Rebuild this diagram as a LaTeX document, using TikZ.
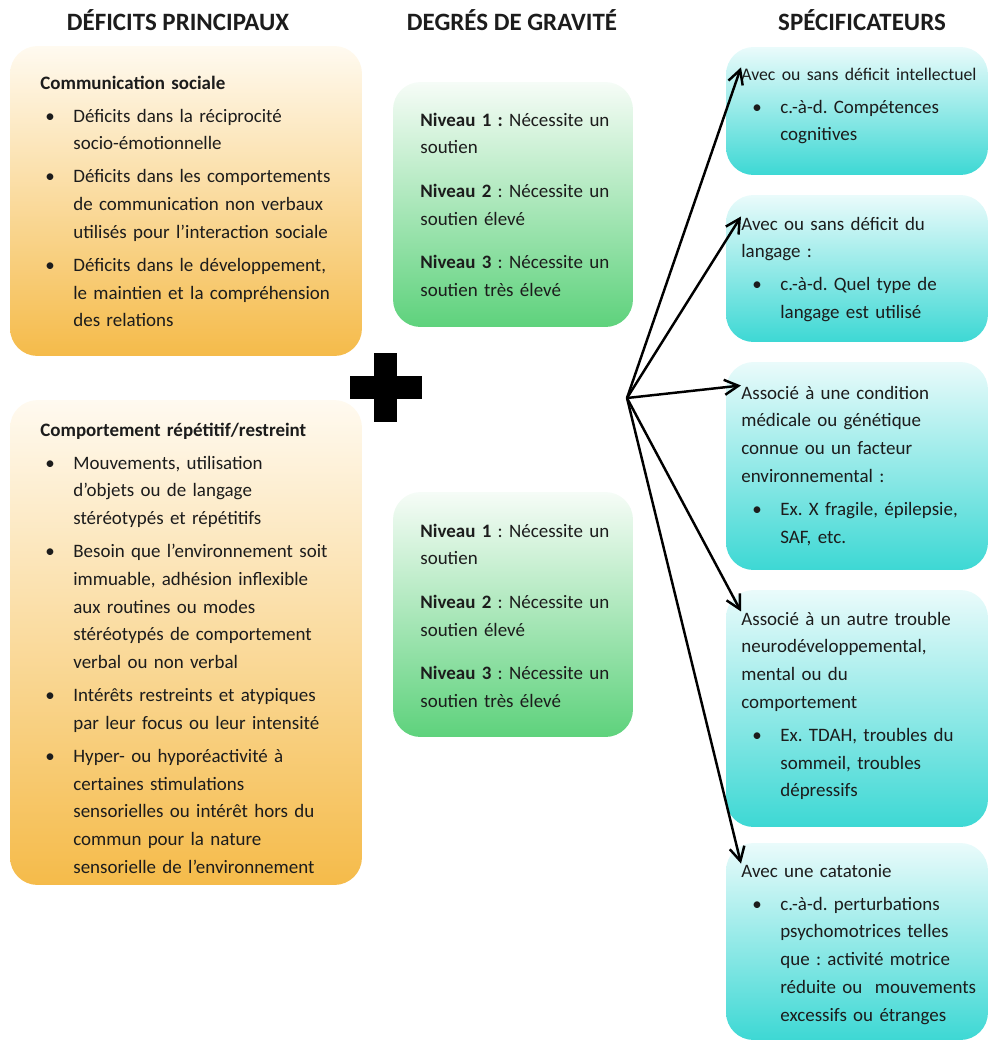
\documentclass[tikz,border=0pt]{standalone}
\usepackage{fontspec}
\setmainfont{Carlito}
\usetikzlibrary{positioning,arrows.meta}

\definecolor{orangeclair}{HTML}{FFFAF0}
\definecolor{orangefonce}{HTML}{F5BB4A}
\definecolor{vertclair}{HTML}{F6FCF7}
\definecolor{vertfonce}{HTML}{5ED27C}
\definecolor{cyanclair}{HTML}{EAFBFB}
\definecolor{cyanfonce}{HTML}{3DD8D4}
\definecolor{encre}{HTML}{1C1C1C}

\newlength\pucegauche
\newlength\pucetexte
\newcommand{\puce}[1]{\par\hangindent=\pucetexte\hangafter=1%
  \noindent\makebox[\pucetexte][l]{\hspace{\pucegauche}\textbullet}{\let\\\newline #1}\par}

\tikzset{
  titre/.style={anchor=base, inner sep=0pt, text=encre, font=\fontsize{14.2}{17}\selectfont\bfseries},
  boite/.style={rounded corners=0.55cm, inner sep=0pt},
  boite orange/.style={boite, top color=orangeclair, bottom color=orangefonce},
  boite verte/.style={boite, top color=vertclair, bottom color=vertfonce},
  boite cyan/.style={boite, top color=cyanclair, bottom color=cyanfonce},
  texte/.style={anchor=base west, inner sep=0pt, align=left, text=encre,
    font=\fontsize{10.8}{15.8}\selectfont\frenchspacing},
  texte orange/.style={texte, text width=6.4cm,
    execute at begin node={\setlength\parskip{3pt}\setlength\pucegauche{0.1cm}\setlength\pucetexte{0.66cm}}},
  texte vert/.style={texte, text width=4.15cm,
    execute at begin node={\setlength\parskip{9pt}}},
  texte cyan/.style={texte, text width=4.95cm,
    execute at begin node={\setlength\parskip{3pt}\setlength\pucegauche{0.22cm}\setlength\pucetexte{0.78cm}}},
  fleche/.style={->, line width=1.4pt},
}

\begin{document}
\begin{tikzpicture}[x=0.02cm, y=-0.02cm, >={Straight Barb[length=2.8mm,width=3mm]}]
  \useasboundingbox (0,0) rectangle (990,1045);

  % en-tetes
  \node[titre] (h1) at (178,30) {DÉFICITS PRINCIPAUX};
  \node[titre] (h2) at (512,30) {DEGRÉS DE GRAVITÉ};
  \node[titre] (h3) at (862,30) {SPÉCIFICATEURS};

  % deficits principaux
  \node[boite orange, minimum width=7.04cm, minimum height=6.2cm] (d1) at (186,201) {};
  \node[texte orange] (td1) at (40,89) {\textbf{Communication sociale}
    \puce{Déficits dans la réciprocité\\ socio-émotionnelle}
    \puce{Déficits dans les comportements\\ de communication non verbaux\\ utilisés pour l’interaction sociale}
    \puce{Déficits dans le développement,\\ le maintien et la compréhension\\ des relations}};

  \node[boite orange, minimum width=7.04cm, minimum height=9.7cm] (d2) at (186,642.5) {};
  \node[texte orange] (td2) at (40,436) {\textbf{Comportement répétitif/restreint}
    \puce{Mouvements, utilisation\\ d’objets ou de langage\\ stéréotypés et répétitifs}
    \puce{Besoin que l’environnement soit\\ immuable, adhésion inflexible\\ aux routines ou modes\\ stéréotypés de comportement\\ verbal ou non verbal}
    \puce{Intérêts restreints et atypiques\\ par leur focus ou leur intensité}
    \puce{Hyper- ou hyporéactivité à\\ certaines stimulations\\ sensorielles ou intérêt hors du\\ commun pour la nature\\ sensorielle de l’environnement}};

  % plus
  \fill (374,353) rectangle (397,422);
  \fill (350,376) rectangle (422,399);

  % degres de gravite
  \node[boite verte, minimum width=4.8cm, minimum height=4.9cm] (g1) at (513,204.5) {};
  \node[texte vert] (tg1) at (420,126) {\textbf{Niveau 1 :} Nécessite un\\ soutien\par
    \textbf{Niveau 2} : Nécessite un\\ soutien élevé\par
    \textbf{Niveau 3} : Nécessite un\\ soutien très élevé};

  \node[boite verte, minimum width=4.8cm, minimum height=4.9cm] (g2) at (513,614.5) {};
  \node[texte vert] (tg2) at (420,537) {\textbf{Niveau 1} : Nécessite un\\ soutien\par
    \textbf{Niveau 2} : Nécessite un\\ soutien élevé\par
    \textbf{Niveau 3} : Nécessite un\\ soutien très élevé};

  % specificateurs
  \node[boite cyan, minimum width=5.24cm, minimum height=2.56cm] (c1) at (857,111) {};
  \node[texte cyan] (s1) at (741,80) {{\fontsize{10.1}{15.8}\selectfont Avec ou sans déficit intellectuel}
    \puce{c.-à-d. Compétences\\ cognitives}};

  \node[boite cyan, minimum width=5.24cm, minimum height=2.94cm] (c2) at (857,268.5) {};
  \node[texte cyan] (s2) at (741,230) {Avec ou sans déficit du\\ langage :
    \puce{c.-à-d. Quel type de\\ langage est utilisé}};

  \node[boite cyan, minimum width=5.24cm, minimum height=4.16cm] (c3) at (857,466) {};
  \node[texte cyan] (s3) at (741,399) {Associé à une condition\\ médicale ou génétique\\ connue ou un facteur\\ environnemental :
    \puce{Ex. X fragile, épilepsie,\\ SAF, etc.}};

  \node[boite cyan, minimum width=5.24cm, minimum height=4.74cm] (c4) at (857,708.5) {};
  \node[texte cyan] (s4) at (741,625) {Associé à un autre trouble\\ neurodéveloppemental,\\ mental ou du\\ comportement
    \puce{Ex. TDAH, troubles du\\ sommeil, troubles\\ dépressifs}};

  \node[boite cyan, minimum width=5.24cm, minimum height=3.94cm] (c5) at (857,941.5) {};
  \node[texte cyan] (s5) at (741,877) {Avec une catatonie
    \puce{c.-à-d. perturbations\\ psychomotrices telles\\ que : activité motrice\\ réduite ou~ mouvements\\ excessifs ou étranges}};

  % fleches
  \coordinate (pivot) at (627,398);
  \foreach \cible in {s1,s2,s3,s4,s5}
    \draw[fleche] (pivot) -- (\cible.north west);
\end{tikzpicture}
\end{document}
